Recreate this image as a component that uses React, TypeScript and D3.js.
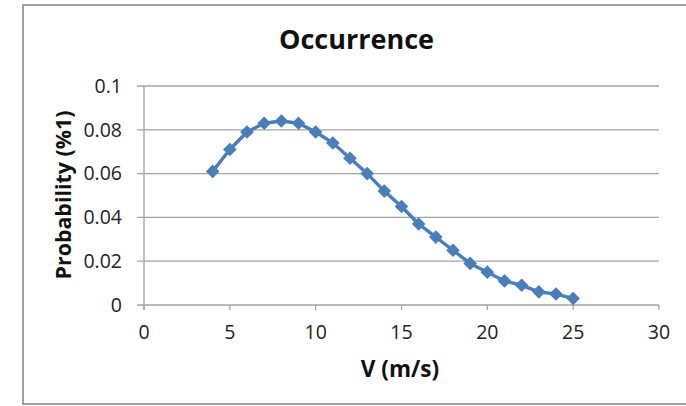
import React from "react";
import * as d3 from "d3";

// Wind speed bins (m/s) and probability of occurrence
const speeds = [4, 5, 6, 7, 8, 9, 10, 11, 12, 13, 14, 15, 16, 17, 18, 19, 20, 21, 22, 23, 24, 25];
const probabilities = [
  0.061, 0.071, 0.079, 0.083, 0.084, 0.083, 0.079, 0.074, 0.067, 0.06, 0.052,
  0.045, 0.037, 0.031, 0.025, 0.019, 0.015, 0.011, 0.009, 0.006, 0.005, 0.003,
];
const xTicks = [0, 5, 10, 15, 20, 25, 30];
const yTicks = [0, 0.02, 0.04, 0.06, 0.08, 0.1];

const title = "Occurrence";
const xTitle = "V (m/s)";
const yTitle = "Probability (%1)";

const W = 686;
const H = 406;
const FONT = "'Open Sans', sans-serif";
const BLUE = "#4a7ebb";
const GRID = "#a3a3a3";

export default function App() {
  const x = d3.scaleLinear().domain([0, 30]).range([144, 659]);
  const y = d3.scaleLinear().domain([0, 0.1]).range([305, 86]);

  const points = speeds.map((s, i) => [s, probabilities[i]] as [number, number]);
  const line = d3
    .line<[number, number]>()
    .x((d) => x(d[0]))
    .y((d) => y(d[1]));
  const diamond = d3.symbol().type(d3.symbolDiamond2).size(118)();

  const fmtY = (v: number) => (v === 0 ? "0" : String(+v.toFixed(2)));

  return (
    <svg
      width={W}
      height={H}
      style={{ position: "absolute", left: 0, top: 0, display: "block", background: "#fff" }}
    >
      {/* chart frame */}
      <rect x={23} y={5} width={700} height={399} fill="#fff" stroke="#8a8a8a" strokeWidth={1.6} />

      {/* title */}
      <text x={356.5} y={49} textAnchor="middle" fontFamily={FONT} fontWeight={700} fontSize={27} fill="#111">
        {title}
      </text>

      {/* horizontal gridlines with y ticks */}
      {yTicks.map((t) => (
        <g key={t}>
          <line x1={137} x2={x(30)} y1={y(t)} y2={y(t)} stroke={GRID} strokeWidth={1.3} />
          <text
            x={122}
            y={y(t)}
            dy="0.35em"
            textAnchor="end"
            fontFamily={FONT}
            fontSize={19.5}
            fill="#222"
          >
            {fmtY(t)}
          </text>
        </g>
      ))}

      {/* vertical axis */}
      <line x1={x(0)} x2={x(0)} y1={y(0.1)} y2={y(0) + 5} stroke={GRID} strokeWidth={1.3} />

      {/* x ticks and labels */}
      {xTicks.map((t) => (
        <g key={t}>
          <line x1={x(t)} x2={x(t)} y1={y(0)} y2={y(0) + 5} stroke={GRID} strokeWidth={1.3} />
          <text x={x(t)} y={339} textAnchor="middle" fontFamily={FONT} fontSize={19.5} fill="#222">
            {t}
          </text>
        </g>
      ))}

      {/* axis titles */}
      <text x={400} y={377} textAnchor="middle" fontFamily={FONT} fontWeight={700} fontSize={22.5} fill="#111">
        {xTitle}
      </text>
      <text
        transform={`translate(71,195) rotate(-90)`}
        textAnchor="middle"
        fontFamily={FONT}
        fontWeight={700}
        fontSize={21.4}
        fill="#111"
      >
        {yTitle}
      </text>

      {/* series */}
      <path d={line(points) ?? ""} fill="none" stroke={BLUE} strokeWidth={3.4} strokeLinejoin="round" />
      {points.map((p) => (
        <path key={p[0]} d={diamond ?? ""} transform={`translate(${x(p[0])},${y(p[1])})`} fill={BLUE} />
      ))}
    </svg>
  );
}
